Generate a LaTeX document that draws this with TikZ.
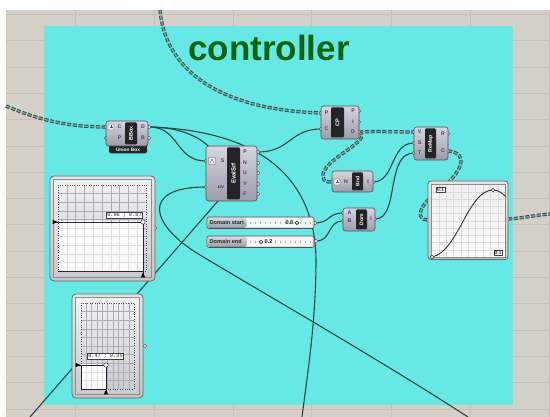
\documentclass[tikz,border=0pt]{standalone}
\usepackage{fontspec}
\setmainfont{Liberation Sans}
\newfontfamily\monofont{Liberation Mono}
\usetikzlibrary{shapes.geometric}

\definecolor{canvasc}{RGB}{212,208,200}
\definecolor{gridc}{RGB}{196,192,184}
\definecolor{groupc}{RGB}{91,236,232}
\definecolor{titlec}{RGB}{10,100,14}
\definecolor{wirec}{RGB}{44,70,68}
\definecolor{listout}{RGB}{52,80,78}
\definecolor{listin}{RGB}{128,160,158}
\definecolor{compTop}{RGB}{214,214,222}
\definecolor{compBot}{RGB}{156,156,170}
\definecolor{compEdge}{RGB}{78,78,90}
\definecolor{stripc}{RGB}{36,36,38}
\definecolor{pinc}{RGB}{92,47,102}
\definecolor{panelc}{RGB}{200,200,208}
\definecolor{mdgridc}{RGB}{172,172,184}

\tikzset{
  gridline/.style={draw=gridc, line width=0.6pt},
  wire/.style={draw=wirec, line width=1.1pt},
  listwire/.style={draw=listin, line width=1.3pt, dash pattern=on 4.2pt off 1.6pt,
    preaction={draw=listout, line width=3.3pt, dash pattern=on 4.2pt off 1.6pt}},
  compbody/.style={draw=compEdge, line width=0.6pt, rounded corners=2.5pt,
    top color=compTop, bottom color=compBot},
  stripbox/.style={fill=stripc, rounded corners=1.2pt},
  striptext/.style={text=white, font=\fontsize{5.5}{5.5}\selectfont\bfseries,
    rotate=90, inner sep=0pt},
  pin/.style={text=pinc, font=\fontsize{5.2}{5.2}\selectfont\bfseries, inner sep=0pt},
  grip/.style={draw=compEdge, fill=white, line width=0.5pt},
  iconbox/.style={draw=compEdge, fill=white!85!gray, line width=0.4pt, rounded corners=0.6pt},
  tab/.style={fill=stripc, rounded corners=1.5pt},
  tabtext/.style={text=white, font=\fontsize{4.8}{4.8}\selectfont\bfseries, inner sep=0pt},
  slbody/.style={draw=compEdge, line width=0.6pt, rounded corners=2pt,
    top color=white!90!gray, bottom color=white!70!gray},
  sllabel/.style={top color=compTop, bottom color=compBot, rounded corners=1.5pt},
  sltrack/.style={fill=white!92!gray},
  sltext/.style={text=black!85, font=\fontsize{5.6}{5.6}\selectfont\bfseries, inner sep=0pt},
  tickmark/.style={draw=black!30, line width=0.3pt},
  knob/.style={draw=black!80, fill=white, line width=0.6pt},
  mdframe/.style={draw=black!60, line width=0.8pt, rounded corners=4pt,
    top color=white!80!gray, bottom color=white!55!gray},
  mdpanel/.style={draw=black!45, line width=0.4pt, top color=white!90!gray, bottom color=panelc},
  mdgrid/.style={draw=mdgridc, line width=0.3pt},
  mdarea/.style={draw=black!70, line width=0.4pt, dotted},
  mdwhite/.style={top color=white, bottom color=white!86!gray},
  mdedge/.style={draw=black!85, line width=0.7pt},
  marker/.style={fill=black},
  valbox/.style={draw=black!75, fill=white, line width=0.4pt, inner sep=0.8pt,
    font=\monofont\fontsize{5.2}{5.2}\selectfont, text=black!85},
  gmlabel/.style={draw=black!75, fill=white, line width=0.4pt, inner sep=0.8pt,
    font=\fontsize{4.8}{4.8}\selectfont\bfseries, text=black!80},
  curvec/.style={draw=black!80, line width=0.9pt},
}

\begin{document}
\begin{tikzpicture}[x=1pt,y=-1pt]
\useasboundingbox (0,0) rectangle (550,417);
\fill[white] (0,0) rectangle (550,417);
\fill[canvasc] (6,10) rectangle (550,417);

% canvas grid
\foreach \gx in {75,154,233,311,391,470,549}
  \draw[gridline] (\gx,10) -- (\gx,417);
\foreach \k in {0,...,15}
  \draw[gridline] (6,{14.4+26.3*\k}) -- (550,{14.4+26.3*\k});

% group
\fill[groupc, opacity=0.9] (44,26) rectangle (513,405);
\node[text=titlec, font=\fontsize{35}{35}\selectfont\bfseries, anchor=base west, inner sep=0pt]
  (title) at (188,61) {controller};

% parameter grips
\coordinate (ubC) at (106,127);  \coordinate (ubP) at (106,138);
\coordinate (ubD) at (149,127);  \coordinate (ubB) at (149,138);
\coordinate (cpP) at (321,113);  \coordinate (cpC) at (321,129);
\coordinate (cpoP) at (359,111); \coordinate (cpoI) at (359,122); \coordinate (cpoD) at (359,132);
\coordinate (esS) at (206,161);  \coordinate (esUV) at (206,187);
\coordinate (esP) at (258,152);  \coordinate (esN) at (258,163); \coordinate (esU) at (258,173);
\coordinate (esV) at (258,184);  \coordinate (esF) at (258,194);
\coordinate (bndN) at (332,182); \coordinate (bndI) at (373,182);
\coordinate (domA) at (343,213); \coordinate (domB) at (343,221); \coordinate (domI) at (375,219);
\coordinate (rmV) at (414,132);  \coordinate (rmS) at (414,143); \coordinate (rmT) at (414,153);
\coordinate (rmR) at (448,134);  \coordinate (rmC) at (448,151);
\coordinate (dsO) at (315,223);  \coordinate (deO) at (316,241);
\coordinate (mdaO) at (155,228); \coordinate (mdbO) at (145,346);
\coordinate (gmI) at (428,220);  \coordinate (gmO) at (508,219);
% wire ends leaving the canvas view
\coordinate (topIn) at (160,10);  \coordinate (leftIn) at (6,106);
\coordinate (rightOut) at (550,214);
\coordinate (botA) at (30,417);  \coordinate (botB) at (302,417); \coordinate (botC) at (468,417);

% list wires
\draw[listwire] (topIn) .. controls (165,70) and (220,110) .. (cpP);
\draw[listwire] (leftIn) .. controls (30,116) and (60,127) .. (ubC);
\draw[listwire] (cpoD) .. controls (380,131) and (395,132) .. (rmV);
\draw[listwire] (cpoD) .. controls (375,140) and (320,160) .. (323,177) .. controls (324,182) and (327,182) .. (bndN);
\draw[listwire] (rmC) .. controls (470,153) and (462,172) .. (440,190) .. controls (418,205) and (415,220) .. (gmI);
\draw[listwire] (gmO) .. controls (525,218) and (535,215) .. (rightOut);

% item wires
\draw[wire] (ubD) .. controls (180,127) and (175,161) .. (esS);
\draw[wire] (ubD) .. controls (250,130) and (315,170) .. (316,260) .. controls (316,320) and (308,370) .. (botB);
\draw[wire] (ubD) .. controls (205,127) and (235,160) .. (218,201) -- (botA);
\draw[wire] (esP) .. controls (290,152) and (290,129) .. (cpC);
\draw[wire] (esUV) .. controls (140,187) and (150,225) .. (200,255) .. controls (260,291) and (380,360) .. (botC);
\draw[wire] (dsO) .. controls (330,223) and (328,213) .. (domA);
\draw[wire] (deO) .. controls (332,241) and (327,221) .. (domB);
\draw[wire] (domI) .. controls (400,219) and (385,153) .. (rmT);
\draw[wire] (bndI) .. controls (395,182) and (390,143) .. (rmS);

% grips
\foreach \g in {ubC,ubP,ubD,ubB,cpP,cpC,cpoP,cpoI,cpoD,esS,esUV,esP,esN,esU,esV,esF,
                bndN,bndI,domA,domB,domI,rmV,rmS,rmT,rmR,rmC,dsO,deO,mdaO,mdbO,gmI,gmO}
  \draw[grip] (\g) circle (1.8);

% ---- Union Box
\fill[tab] (109,142) rectangle (147,153.5);
\node[tabtext] (ubTab) at (128,149.5) {Union Box};
\draw[compbody] (106,121) rectangle (148,146);
\fill[stripbox] (125,122.5) rectangle (137,144.5);
\node[striptext] (ubName) at (131,133.5) {BBox};
\draw[iconbox] (108,124) rectangle (114,130);
\draw[compEdge, line width=0.4pt] (109.5,127) -- (112.5,127) (111,125.5) -- (111,128.5);
\node[pin] (ubLC) at (119.5,127) {C};
\node[pin] (ubLP) at (119.5,138) {P};
\node[pin] (ubLD) at (143,127) {D};
\node[pin] (ubLB) at (143,138) {B};

% ---- CP
\draw[compbody] (321,106) rectangle (359,139);
\fill[stripbox] (331,107.5) rectangle (344,137.5);
\node[striptext] (cpName) at (337.5,122.5) {CP};
\node[pin] (cpLP) at (326.5,113) {P};
\node[pin] (cpLC) at (326.5,129) {C};
\node[pin] (cpLoP) at (353,111) {P};
\node[pin] (cpLoI) at (353,122) {I};
\node[pin] (cpLoD) at (353,132) {D};

% ---- EvalSrf
\draw[compbody] (206,146) rectangle (257,201);
\fill[stripbox] (227,147.5) rectangle (240,199.5);
\node[striptext, font=\fontsize{6}{6}\selectfont\bfseries] (esName) at (233.5,173.5) {EvalSrf};
\draw[iconbox] (208.5,157.5) rectangle (215.5,164.5);
\draw[compEdge, line width=0.4pt] (210,163) -- (212,159) -- (214,163);
\node[pin] (esLS) at (222.5,161) {S};
\node[pin] (esLUV) at (221,187) {uv};
\node[pin] (esLP) at (245,152) {P};
\node[pin] (esLN) at (245,163) {N};
\node[pin] (esLU) at (245,173) {U};
\node[pin] (esLV) at (245,184) {V};
\node[pin] (esLF) at (245,194) {F};

% ---- Bnd
\draw[compbody] (332,171) rectangle (373,192);
\fill[stripbox] (352,172.5) rectangle (363,190.5);
\node[striptext, font=\fontsize{5}{5}\selectfont\bfseries] (bndName) at (357.5,181.5) {Bnd};
\draw[iconbox] (334,179) rectangle (340,185);
\draw[compEdge, line width=0.4pt] (335.5,182) -- (338.5,182) (337,180.5) -- (337,183.5);
\node[pin] (bndLN) at (346,182) {N};
\node[pin] (bndLI) at (368,182) {I};

% ---- Dom
\draw[compbody] (343,208) rectangle (375,231);
\fill[stripbox] (356,209.5) rectangle (367,229.5);
\node[striptext, font=\fontsize{5}{5}\selectfont\bfseries] (domName) at (361.5,219.5) {Dom};
\node[pin] (domLA) at (349.5,213) {A};
\node[pin] (domLB) at (349.5,221) {B};
\node[pin] (domLI) at (371,219) {I};

% ---- ReMap
\draw[compbody] (414,127) rectangle (448,160);
\fill[stripbox] (425,128.5) rectangle (436,158.5);
\node[striptext, font=\fontsize{5.2}{5.2}\selectfont\bfseries] (rmName) at (430.5,143.5) {ReMap};
\node[pin] (rmLV) at (419.5,132) {V};
\node[pin] (rmLS) at (419.5,143) {S};
\node[pin] (rmLT) at (419.5,153) {T};
\node[pin] (rmLR) at (443,134) {R};
\node[pin] (rmLC) at (443,151) {C};

% ---- number sliders
\draw[slbody] (207,217) rectangle (314,228.5);
\fill[sllabel] (208,218) rectangle (246,227.5);
\node[sltext, anchor=west] (dsName) at (209.5,222.8) {Domain start};
\fill[sltrack] (247,218.6) rectangle (312,227);
\foreach \t in {0,...,12} \draw[tickmark] ({250+5*\t},221.6) -- ++(0,2.4);
\node[sltext, anchor=east] (dsVal) at (293.5,222.8) {0.8};
\draw[knob] (297,222.8) circle (1.8);

\draw[slbody] (207,236) rectangle (314,247.5);
\fill[sllabel] (208,237) rectangle (246,246.5);
\node[sltext, anchor=west] (deName) at (209.5,241.8) {Domain end};
\fill[sltrack] (247,237.6) rectangle (312,246);
\foreach \t in {0,...,12} \draw[tickmark] ({250+5*\t},240.6) -- ++(0,2.4);
\draw[knob] (261,241.8) circle (1.8);
\node[sltext, anchor=west] (deVal) at (264.5,241.8) {0.2};

% ---- MD slider (large)
\draw[mdframe] (50,176) rectangle (155,281);
\draw[mdpanel] (53.5,179.5) rectangle (151.5,277.5);
\fill[mdwhite] (58,222) rectangle (143,271);
\foreach \i in {1,...,9} \draw[mdgrid] ({58+8.8*\i},185) -- ({58+8.8*\i},271);
\foreach \i in {1,...,9} \draw[mdgrid] (58,{185+8.6*\i}) -- (146,{185+8.6*\i});
\fill[white, opacity=0.6] (58,222) rectangle (143,271);
\draw[mdarea] (58,185) rectangle (146,271);
\draw[mdedge] (56,222) -- (143,222) -- (143,275);
\draw[mdedge] (58,271) -- (143,271);
\fill[marker] (52.5,219.8) -- (57.5,222) -- (52.5,224.2) -- cycle;
\fill[marker] (140.8,277.5) -- (143,272.5) -- (145.2,277.5) -- cycle;
\draw[knob, line width=0.5pt] (143,222) circle (2.2);
\node[valbox] (mdaVal) at (124.5,215.5) {0.96 ; 0.87};

% ---- MD slider (small)
\draw[mdframe] (72,294) rectangle (143,398);
\draw[mdpanel] (75.5,297.5) rectangle (139.5,394.5);
\fill[mdwhite] (81,365) rectangle (106,389);
\foreach \i in {1,...,9} \draw[mdgrid] ({81+5.3*\i},303) -- ({81+5.3*\i},389);
\foreach \i in {1,...,9} \draw[mdgrid] (81,{303+8.6*\i}) -- (134,{303+8.6*\i});
\fill[white, opacity=0.6] (81,365) rectangle (106,389);
\draw[mdarea] (81,303) rectangle (134,389);
\draw[mdedge] (79,365) -- (106,365) -- (106,392);
\draw[mdedge] (81,389) -- (106,389);
\draw[mdedge] (81,365) -- (81,389);
\fill[marker] (75.5,362.8) -- (80.5,365) -- (75.5,367.2) -- cycle;
\fill[marker] (103.8,394.5) -- (106,389.5) -- (108.2,394.5) -- cycle;
\draw[knob, line width=0.5pt] (106,365) circle (2.2);
\node[valbox] (mdbVal) at (105.5,356.5) {0.47 ; 0.35};

% ---- graph mapper
\draw[mdframe, rounded corners=3pt] (428,181) rectangle (508,259.5);
\fill[top color=white!88!gray, bottom color=white!96!gray] (431.5,184.5) rectangle (505,257);
\foreach \i in {1,...,9} \draw[mdgrid, draw=black!14] ({431.5+7.35*\i},184.5) -- ({431.5+7.35*\i},257);
\foreach \i in {1,...,9} \draw[mdgrid, draw=black!14] (431.5,{184.5+7.25*\i}) -- (505,{184.5+7.25*\i});
\draw[draw=black!45, line width=0.4pt] (431.5,184.5) rectangle (505,257);
\draw[curvec] (432,257) .. controls (458,252) and (468,190) .. (493,190)
              .. controls (499,190) and (503,194) .. (506,197);
\draw[knob, line width=0.5pt] (432,257) circle (1.8);
\draw[knob, line width=0.5pt] (493,190) circle (1.8);
\node[gmlabel] (gmTop) at (440.5,189.5) {0:1};
\node[gmlabel] (gmBot) at (498,252.5) {0:1};
\end{tikzpicture}
\end{document}
